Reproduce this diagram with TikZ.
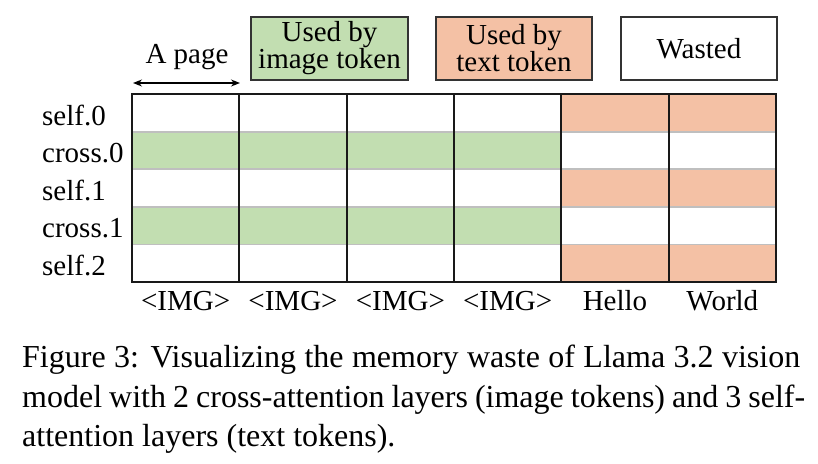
\documentclass[tikz,border=0pt]{standalone}
\usepackage{fontspec}
\setmainfont{Liberation Serif}
\usetikzlibrary{arrows.meta}
\definecolor{imggreen}{HTML}{C2DEB1}
\definecolor{txtorange}{HTML}{F4C1A5}
\definecolor{sepgrey}{HTML}{BFBFBF}
\begin{document}
\begin{tikzpicture}[x=1pt,y=-1pt,
  lbl/.style={font=\fontsize{29}{30}\selectfont, inner sep=0pt},
  captext/.style={font=\fontsize{32}{40}\selectfont, inner sep=0pt, anchor=base west},
  legendbox/.style={draw=black!80, line width=1.4pt, minimum width=156pt, minimum height=63pt,
    align=center, inner sep=0pt, font=\fontsize{29}{27}\selectfont},
  sepline/.style={sepgrey, line width=1.8pt},
  colline/.style={black!90, line width=1.8pt},
  ]
\useasboundingbox (0,0) rectangle (818,463);
% filled cells
\fill[imggreen] (132,131.6) rectangle (561.33,169.2);
\fill[imggreen] (132,206.8) rectangle (561.33,244.4);
\fill[txtorange] (561.33,94) rectangle (776,131.6);
\fill[txtorange] (561.33,169.2) rectangle (776,206.8);
\fill[txtorange] (561.33,244.4) rectangle (776,282);
% row separators
\foreach \yy in {131.6,169.2,206.8,244.4} \draw[sepline] (132,\yy) -- (776,\yy);
% column lines
\foreach \xx in {239.33,346.67,454,561.33,668.67} \draw[colline] (\xx,94) -- (\xx,282);
\draw[colline] (132,94) rectangle (776,282);
% row labels
\node[lbl, anchor=base west] (r0) at (42,125) {self.0};
\node[lbl, anchor=base west] (r1) at (42,162.5) {cross.0};
\node[lbl, anchor=base west] (r2) at (42,200) {self.1};
\node[lbl, anchor=base west] (r3) at (42,237.5) {cross.1};
\node[lbl, anchor=base west] (r4) at (42,275) {self.2};
% column labels
\node[lbl, anchor=base] (c0) at (185.67,310) {<IMG>};
\node[lbl, anchor=base] (c1) at (293,310) {<IMG>};
\node[lbl, anchor=base] (c2) at (400.33,310) {<IMG>};
\node[lbl, anchor=base] (c3) at (507.67,310) {<IMG>};
\node[lbl, anchor=base] (c4) at (615,310) {Hello};
\node[lbl, anchor=base] (c5) at (722.33,310) {World};
% legend
\node[legendbox, fill=imggreen, minimum width=157pt] (lg) at (329.5,48.5) {Used by\\image token};
\node[legendbox, fill=txtorange] (lo) at (514,48.5) {Used by\\text token};
\node[legendbox, fill=white] (lw) at (699,48.5) {Wasted};
% page arrow
\node[lbl, anchor=base] (pg) at (187,63) {A page};
\coordinate (pl) at (133,83);
\coordinate (pr) at (240,83);
\draw[{Stealth[length=9pt,width=7pt]}-{Stealth[length=9pt,width=7pt]}, line width=1.3pt] (pl) -- (pr);
% caption
\node[captext] (cap1) at (22,367) {\makebox[778pt][s]{Figure 3: Visualizing the memory waste of Llama 3.2 vision}};
\node[captext] (cap2) at (22,407) {\makebox[783pt][s]{model with 2 cross-attention layers (image tokens) and 3 self-}};
\node[captext] (cap3) at (22,446) {attention layers (text tokens).};
\end{tikzpicture}
\end{document}
